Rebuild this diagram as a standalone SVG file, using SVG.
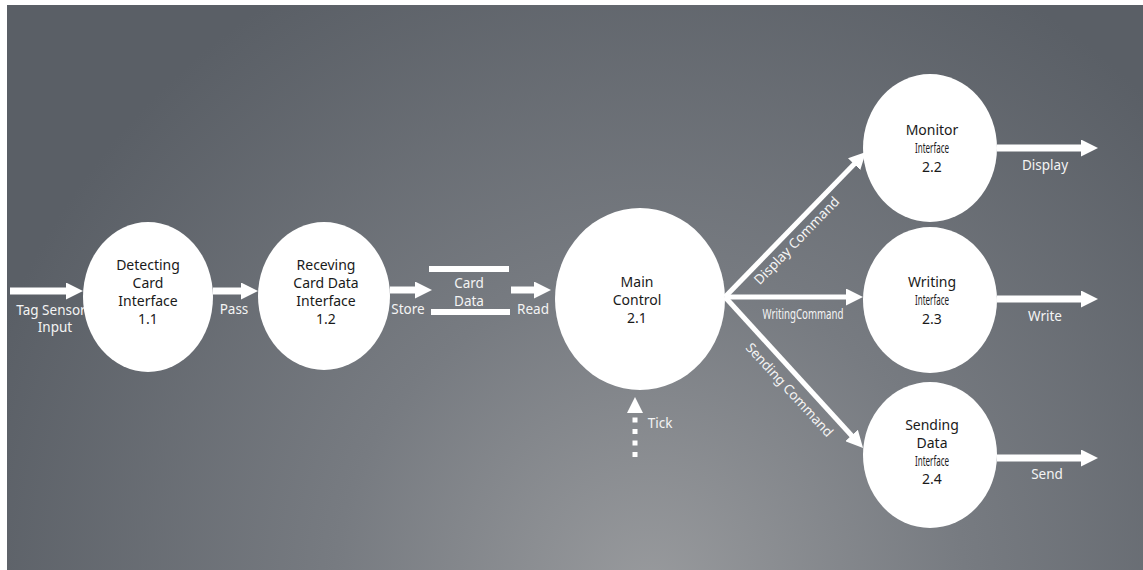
<svg xmlns="http://www.w3.org/2000/svg" width="1143" height="570" viewBox="0 0 1143 570">
<defs>
<radialGradient id="bg" gradientUnits="userSpaceOnUse" cx="650" cy="590" r="700">
<stop offset="0" stop-color="#989a9d"/>
<stop offset="0.45" stop-color="#777b81"/>
<stop offset="1" stop-color="#5a5f66"/>
</radialGradient>
<marker id="ah" markerUnits="userSpaceOnUse" markerWidth="17" markerHeight="17" refX="3" refY="8.5" orient="auto">
<path d="M0,0 L17,8.5 L0,17 z" fill="#ffffff"/>
</marker>
<style>
.node ellipse{fill:#ffffff;}
.nt{font-family:"Noto Sans","Open Sans",sans-serif;font-size:14px;fill:#1a1a1a;text-anchor:middle;}
.lb{font-family:"Noto Sans","Open Sans",sans-serif;font-size:13.5px;fill:#f4f4f4;text-anchor:middle;}
.sh{stroke:#ffffff;stroke-width:7;fill:none;marker-end:url(#ah);}
.br{stroke:#ffffff;stroke-width:5;fill:none;marker-end:url(#ah);}
</style>
</defs>
<rect x="0" y="0" width="1143" height="570" fill="#ffffff"/>
<rect x="7" y="5" width="1136" height="565" fill="url(#bg)"/>

<g id="labels">
<text class="lb" x="51" y="315">Tag Sensor</text>
<text class="lb" x="55" y="332">Input</text>
</g>

<g id="connectors">
<line class="sh" x1="10" y1="291" x2="69" y2="291"/>
<line class="sh" x1="213" y1="291" x2="244" y2="291"/>
<line class="sh" x1="390" y1="290" x2="418" y2="290"/>
<line class="sh" x1="511" y1="290" x2="537" y2="290"/>
<line class="br" x1="725" y1="297" x2="856.2" y2="162"/>
<line class="br" x1="725" y1="297" x2="849" y2="297"/>
<line class="br" x1="725" y1="297" x2="853.6" y2="437.7"/>
<line class="sh" x1="997" y1="148" x2="1084" y2="148"/>
<line class="sh" x1="997" y1="299" x2="1084" y2="299"/>
<line class="sh" x1="997" y1="458" x2="1084" y2="458"/>
<line x1="635" y1="457" x2="635" y2="414" stroke="#ffffff" stroke-width="5" stroke-dasharray="5 6.5"/>
<polygon points="635,397 643,413 627,413" fill="#ffffff"/>
</g>

<g id="store">
<rect x="429" y="266" width="80" height="6" fill="#ffffff"/>
<rect x="431" y="309" width="79" height="6" fill="#ffffff"/>
<text class="lb" x="469" y="288">Card</text>
<text class="lb" x="469" y="306">Data</text>
</g>

<g id="node-1-1" class="node">
<ellipse cx="148" cy="297" rx="65" ry="75"/>
<text class="nt" x="148" y="270">Detecting</text>
<text class="nt" x="148" y="288">Card</text>
<text class="nt" x="148" y="306">Interface</text>
<text class="nt" x="148" y="324">1.1</text>
</g>
<g id="node-1-2" class="node">
<ellipse cx="324" cy="296" rx="66" ry="74"/>
<text class="nt" x="326" y="270">Receving</text>
<text class="nt" x="326" y="288">Card Data</text>
<text class="nt" x="326" y="306">Interface</text>
<text class="nt" x="326" y="324">1.2</text>
</g>
<g id="node-2-1" class="node">
<ellipse cx="640" cy="299" rx="85" ry="91"/>
<text class="nt" x="637" y="287">Main</text>
<text class="nt" x="637" y="305">Control</text>
<text class="nt" x="637" y="323">2.1</text>
</g>
<g id="node-2-2" class="node">
<ellipse cx="930" cy="148" rx="67" ry="74"/>
<text class="nt" x="932" y="135">Monitor</text>
<text class="nt" x="932" y="153" textLength="34" lengthAdjust="spacingAndGlyphs">Interface</text>
<text class="nt" x="932" y="172">2.2</text>
</g>
<g id="node-2-3" class="node">
<ellipse cx="930" cy="300" rx="67" ry="73"/>
<text class="nt" x="932" y="287">Writing</text>
<text class="nt" x="932" y="305" textLength="34" lengthAdjust="spacingAndGlyphs">Interface</text>
<text class="nt" x="932" y="324">2.3</text>
</g>
<g id="node-2-4" class="node">
<ellipse cx="930" cy="455" rx="67" ry="73"/>
<text class="nt" x="932" y="430">Sending</text>
<text class="nt" x="932" y="448">Data</text>
<text class="nt" x="932" y="466" textLength="34" lengthAdjust="spacingAndGlyphs">Interface</text>
<text class="nt" x="932" y="484">2.4</text>
</g>

<g id="flow-labels">
<text class="lb" x="234" y="314">Pass</text>
<text class="lb" x="408" y="314">Store</text>
<text class="lb" x="533" y="314">Read</text>
<text class="lb" x="660" y="428">Tick</text>
<text class="lb" transform="translate(800,244) rotate(-46)">Display Command</text>
<text class="lb" x="803" y="319" textLength="81" lengthAdjust="spacingAndGlyphs">WritingCommand</text>
<text class="lb" transform="translate(786,393) rotate(47.5)">Sending Command</text>
<text class="lb" x="1045" y="170">Display</text>
<text class="lb" x="1045" y="321">Write</text>
<text class="lb" x="1047" y="479">Send</text>
</g>
</svg>
